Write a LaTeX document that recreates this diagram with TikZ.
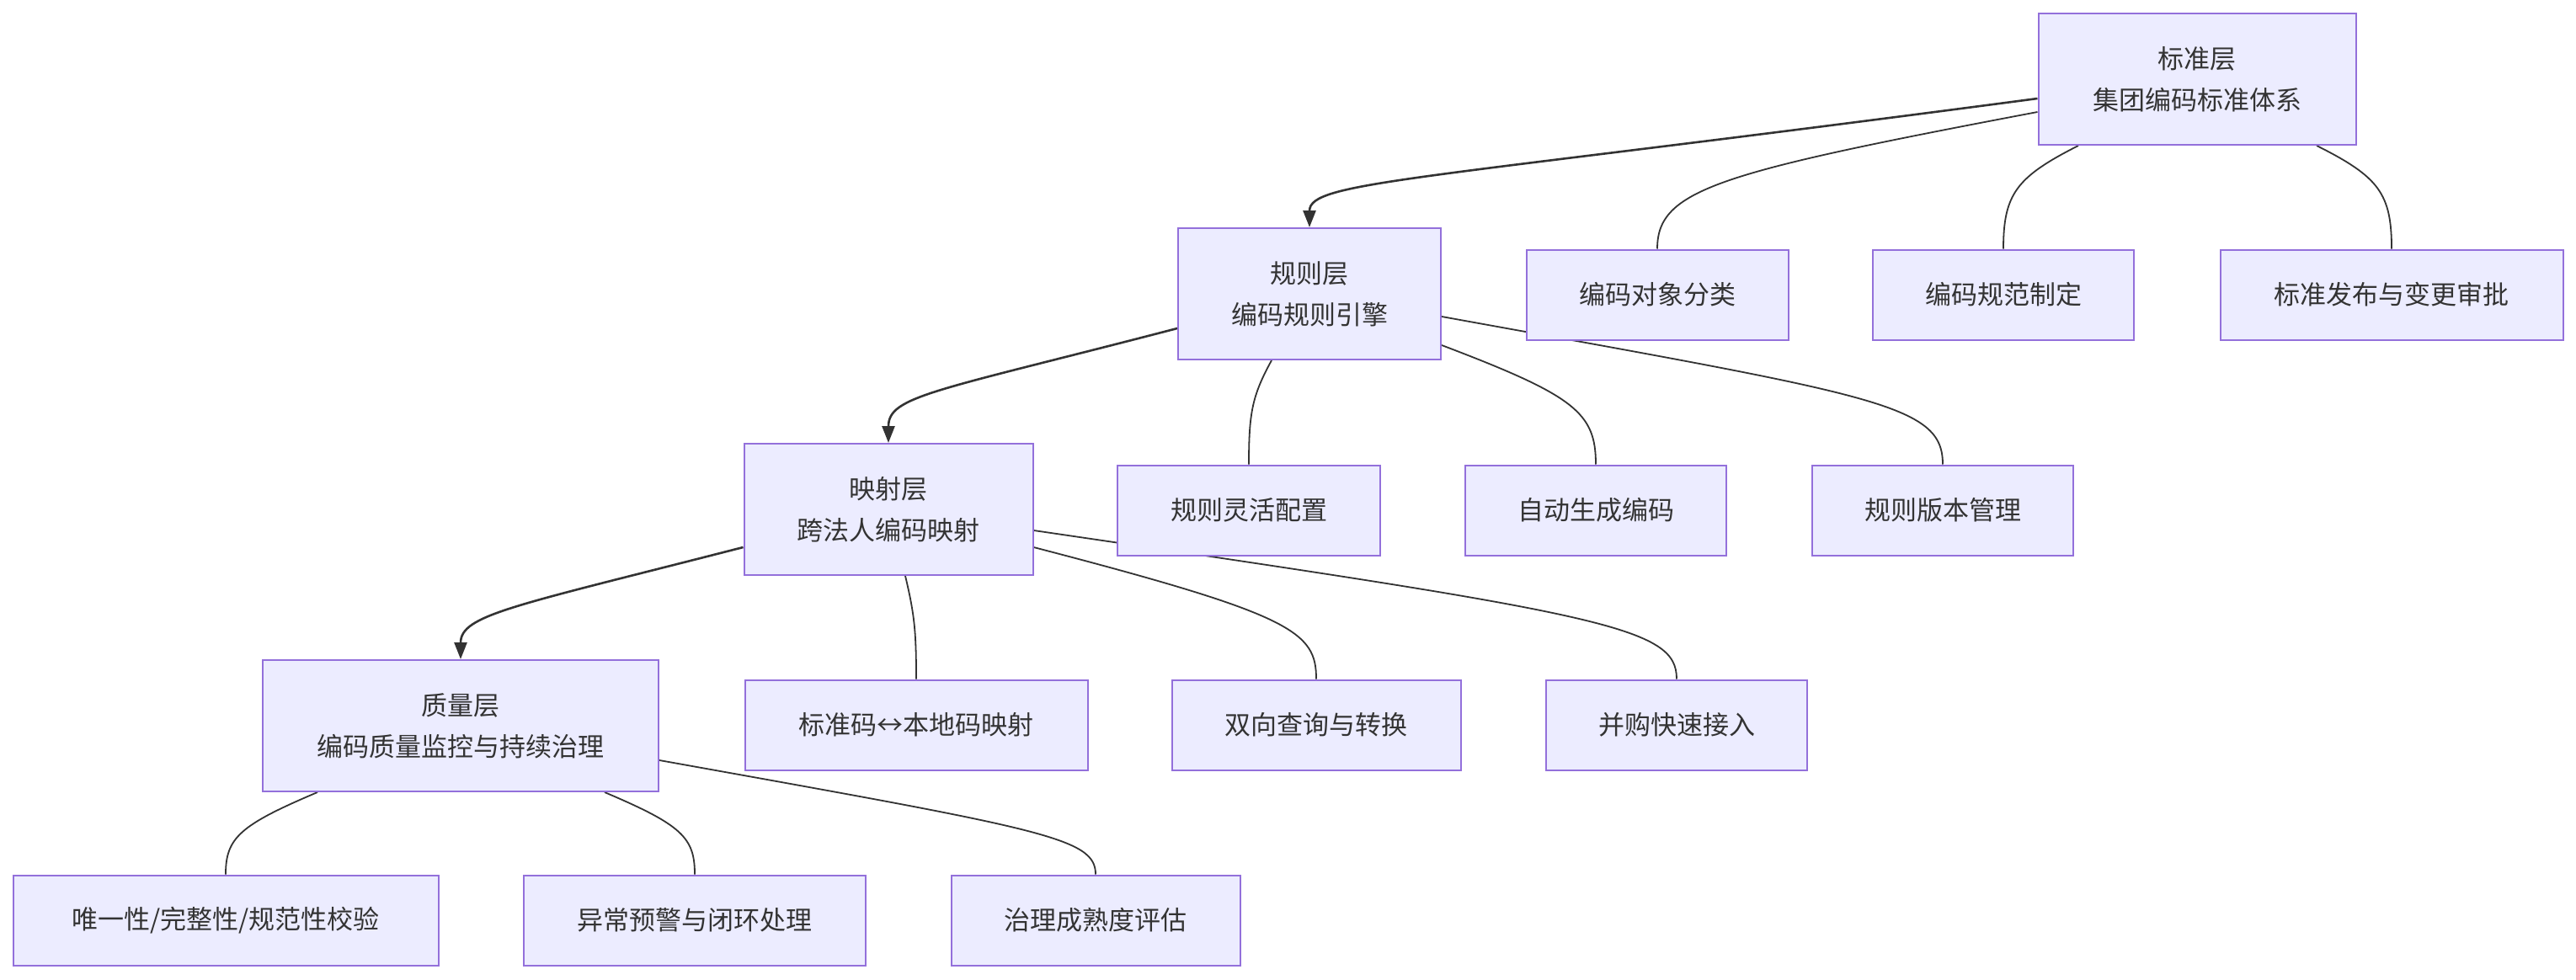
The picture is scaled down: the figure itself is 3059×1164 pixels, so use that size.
\documentclass[tikz,border=0pt]{standalone}
\usepackage{fontspec}
\setmainfont{Noto Sans CJK SC}
\usetikzlibrary{arrows.meta,backgrounds}
\definecolor{boxfill}{HTML}{ECECFF}
\definecolor{boxline}{HTML}{9370DB}
\definecolor{ink}{HTML}{333333}
\tikzset{
  box/.style={draw=boxline, fill=boxfill, line width=2pt, inner sep=0pt, align=center,
    text=ink, font=\fontsize{31}{49}\selectfont},
  edge/.style={draw=ink, line width=1.8pt},
  arr/.style={draw=ink, line width=2.6pt, -{Triangle[length=20pt,width=15pt]}},
}
\begin{document}
\begin{tikzpicture}[x=1pt,y=-1pt]
\useasboundingbox (0,0) rectangle (3059,1164);
% layer nodes
\node[box, minimum width=377pt, minimum height=156pt] (S) at (2609,94) {标准层\\集团编码标准体系};
\node[box, minimum width=312pt, minimum height=156pt] (R) at (1555,349) {规则层\\编码规则引擎};
\node[box, minimum width=343pt, minimum height=156pt] (M) at (1055,605) {映射层\\跨法人编码映射};
\node[box, minimum width=470pt, minimum height=156pt] (Q) at (547,862) {质量层\\编码质量监控与持续治理};
% leaves
\node[box, minimum width=311pt, minimum height=107pt] (s1) at (1968,350) {编码对象分类};
\node[box, minimum width=310pt, minimum height=107pt] (s2) at (2379,350) {编码规范制定};
\node[box, minimum width=407pt, minimum height=107pt] (s3) at (2840,350) {标准发布与变更审批};
\node[box, minimum width=312pt, minimum height=107pt] (r1) at (1483,606) {规则灵活配置};
\node[box, minimum width=310pt, minimum height=107pt] (r2) at (1895,606) {自动生成编码};
\node[box, minimum width=310pt, minimum height=107pt] (r3) at (2307,606) {规则版本管理};
\node[box, minimum width=407pt, minimum height=107pt] (m1) at (1088,861) {标准码↔本地码映射};
\node[box, minimum width=343pt, minimum height=107pt] (m2) at (1563,861) {双向查询与转换};
\node[box, minimum width=310pt, minimum height=107pt] (m3) at (1991,861) {并购快速接入};
\node[box, minimum width=505pt, minimum height=107pt] (q1) at (268,1093) {唯一性/完整性/规范性校验};
\node[box, minimum width=406pt, minimum height=107pt] (q2) at (825,1093) {异常预警与闭环处理};
\node[box, minimum width=343pt, minimum height=107pt] (q3) at (1301,1093) {治理成熟度评估};
% connectors
\begin{scope}[on background layer]
\fill[white] (0,0) rectangle (3059,1164);
\draw[arr] (S.west |- 0,117) .. controls (1680,215) and (1555,215) .. (R.north);
\draw[edge] (S.west |- 0,133) .. controls (2040,205) and (1968,225) .. (s1.north);
\draw[edge] (S.south -| 2468,0) .. controls (2395,210) and (2379,230) .. (s2.north);
\draw[edge] (S.south -| 2751,0) .. controls (2825,210) and (2840,230) .. (s3.north);

\draw[arr] (R.west |- 0,390) .. controls (1110,465) and (1055,470) .. (M.north);
\draw[edge] (R.south -| 1510,0) .. controls (1487,470) and (1483,490) .. (r1.north);
\draw[edge] (R.east |- 0,410) .. controls (1870,470) and (1895,490) .. (r2.north);
\draw[edge] (R.east |- 0,376) .. controls (2230,470) and (2307,480) .. (r3.north);

\draw[arr] (M.west |- 0,650) .. controls (610,720) and (547,730) .. (Q.north);
\draw[edge] (M.south -| 1075,0) .. controls (1086,730) and (1088,750) .. (m1.north);
\draw[edge] (M.east |- 0,650) .. controls (1535,730) and (1563,750) .. (m2.north);
\draw[edge] (M.east |- 0,630) .. controls (1910,730) and (1991,745) .. (m3.north);

\draw[edge] (Q.south -| 377,0) .. controls (285,980) and (268,995) .. (q1.north);
\draw[edge] (Q.south -| 718,0) .. controls (810,980) and (825,995) .. (q2.north);
\draw[edge] (Q.east |- 0,903) .. controls (1240,985) and (1301,995) .. (q3.north);
\end{scope}
\end{tikzpicture}
\end{document}
